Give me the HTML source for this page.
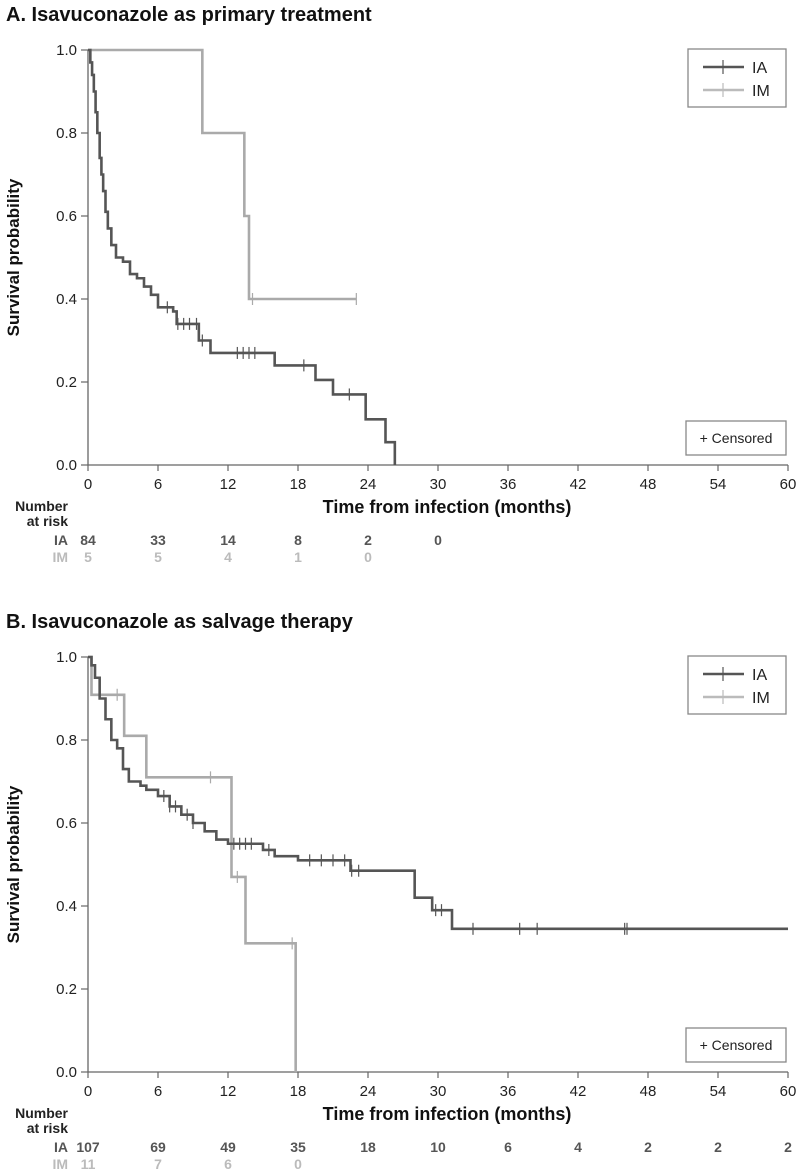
<!DOCTYPE html>
<html><head><meta charset="utf-8"><style>
body{margin:0;background:#fff;}
svg{display:block;font-family:"Liberation Sans",Arial,sans-serif;}
</style></head><body>
<svg id="chart" width="797" height="1172" viewBox="0 0 797 1172" xmlns="http://www.w3.org/2000/svg"></svg>
<script>
// Panel A data
const ticksX=[0,6,12,18,24,30,36,42,48,54,60];
const ticksY=[0,0.2,0.4,0.6,0.8,1.0];
const aIATimes=[0,0.2,0.35,0.5,0.65,0.8,1.0,1.15,1.3,1.5,1.7,2.0,2.4,3.0,3.6,4.2,4.8,5.4,6.0,7.3,7.6,9.5,10.5,16.0,19.5,21.0,23.8,25.5,26.3];
const aIASurv=[1.0,0.97,0.94,0.9,0.85,0.8,0.74,0.7,0.66,0.61,0.57,0.53,0.5,0.49,0.46,0.45,0.43,0.41,0.38,0.37,0.34,0.3,0.27,0.24,0.205,0.17,0.11,0.055,0.0];
const aIACens=[6.8,7.7,8.2,8.7,9.3,9.8,12.8,13.3,13.8,14.3,18.5,22.4];
const aIMTimes=[0,9.8,13.4,13.8];
const aIMSurv=[1.0,0.8,0.6,0.4];
const aIMEnd=23;
const aIMCens=[14.1,23];
const aRiskIA=["84","33","14","8","2","0"];
const aRiskIM=["5","5","4","1","0"];
// Panel B data
const bIATimes=[0,0.3,0.6,1.0,1.5,2.0,2.5,3.0,3.5,4.5,5.0,6.0,7.0,8.0,9.0,10.0,11.0,12.0,15.0,16.0,18.0,22.5,28.0,29.5,31.2];
const bIASurv=[1.0,0.98,0.95,0.9,0.85,0.8,0.78,0.73,0.7,0.69,0.68,0.665,0.64,0.62,0.6,0.58,0.56,0.55,0.535,0.52,0.51,0.485,0.42,0.39,0.345];
const bIAEnd=60;
const bIACens=[6.5,7.0,7.5,8.5,9.0,12.5,13.0,13.5,14.0,15.5,19,20,21,22,22.6,23.2,29.8,30.3,33,37,38.5,46,46.2];
const bIMTimes=[0,0.3,3.1,5.0,12.3,13.5,17.8];
const bIMSurv=[1.0,0.909,0.81,0.71,0.47,0.31,0.0];
const bIMCens=[2.5,10.5,12.8,17.5];
const bRiskIA=["107","69","49","35","18","10","6","4","2","2","2"];
const bRiskIM=["11","7","6","0"];

const NS="http://www.w3.org/2000/svg";
const svg=document.getElementById('chart');
function mk(tag,attrs,parent,text){const e=document.createElementNS(NS,tag);for(const k in attrs)e.setAttribute(k,attrs[k]);if(text!==undefined)e.textContent=text;(parent||svg).appendChild(e);return e;}
const X0=88,X1=788;
const xs=t=>X0+(t/60)*(X1-X0);
function survAt(times,surv,t){let s=surv[0];for(let i=0;i<times.length;i++){if(times[i]<=t)s=surv[i];}return s;}
function panel(off,title,iaT,iaS,iaEnd,iaC,imT,imS,imEnd,imC,rIA,rIM,key){
  const Y0=465+off,Y1=50+off;
  const ys=v=>Y0-(Y0-Y1)*v;
  const g=mk('g',{});
  
  
  const t=mk('text',{x:6,y:21+off,'font-size':20,'font-weight':'bold',fill:'#111'},g,title);
  
  
  const ax=mk('path',{d:`M${X0} ${Y1}V${Y0}H${X1}`,stroke:'#666','stroke-width':1.3,fill:'none'},g);
  
  
  ticksY.forEach(v=>{
    mk('line',{x1:X0-7,x2:X0,y1:ys(v),y2:ys(v),stroke:'#666','stroke-width':1.2},g);
    const l=mk('text',{x:X0-11,y:ys(v)+5,'font-size':15,'text-anchor':'end',fill:'#222'},g,v.toFixed(1));
    
    
  });
  ticksX.forEach(v=>{
    mk('line',{x1:xs(v),x2:xs(v),y1:Y0,y2:Y0+6,stroke:'#666','stroke-width':1.2},g);
    const l=mk('text',{x:xs(v),y:Y0+24,'font-size':15,'text-anchor':'middle',fill:'#222'},g,String(v));
    
    
  });
  const yt=mk('text',{x:0,y:0,'font-size':17,'font-weight':'bold','text-anchor':'middle',fill:'#111',transform:`translate(19 ${(Y0+Y1)/2}) rotate(-90)`},g,'Survival probability');
  
  
  const xt=mk('text',{x:447,y:Y0+48,'font-size':18,'font-weight':'bold','text-anchor':'middle',fill:'#111'},g,'Time from infection (months)');
  
  
  function curve(times,surv,end,cens,color,name){
    let d=`M${xs(times[0])} ${ys(surv[0])}`;
    for(let i=1;i<times.length;i++){d+=`H${xs(times[i])}V${ys(surv[i])}`;}
    if(end!==null)d+=`H${xs(end)}`;
    const p=mk('path',{d:d,stroke:color,'stroke-width':2.6,fill:'none'},g);
    
    
    cens.forEach(c=>{const s=survAt(times,surv,c);
      const m=mk('line',{x1:xs(c),x2:xs(c),y1:ys(s)-6,y2:ys(s)+6,stroke:color,'stroke-width':1.2},g);
      
      });
  }
  curve(imT,imS,imEnd,imC,'#aaa','im');
  curve(iaT,iaS,iaEnd,iaC,'#555','ia');
  const lg=mk('g',{},g);
  
  
  mk('rect',{x:688,y:49+off,width:98,height:58,fill:'#fff',stroke:'#888','stroke-width':1.3},lg);
  [['IA','#555',67],['IM','#bbb',90]].forEach(([n,c,yy])=>{
    mk('line',{x1:703,x2:744,y1:yy+off,y2:yy+off,stroke:c,'stroke-width':2.6},lg);
    mk('line',{x1:723,x2:723,y1:yy+off-7,y2:yy+off+7,stroke:c,'stroke-width':1.2},lg);
    const e=mk('text',{x:752,y:yy+off+6,'font-size':16,fill:'#222'},lg,n);
    
    
  });
  const cb=mk('g',{},g);
  
  
  mk('rect',{x:686,y:421+off,width:100,height:34,fill:'#fff',stroke:'#888','stroke-width':1.3},cb);
  mk('text',{x:736,y:443+off,'font-size':14,'text-anchor':'middle',fill:'#222'},cb,'+ Censored');
  const rt=mk('g',{},g);
  
  
  mk('text',{x:68,y:Y0+46,'font-size':14,'font-weight':'bold','text-anchor':'end',fill:'#222'},rt,'Number');
  mk('text',{x:68,y:Y0+61,'font-size':14,'font-weight':'bold','text-anchor':'end',fill:'#222'},rt,'at risk');
  mk('text',{x:68,y:Y0+80,'font-size':14,'font-weight':'bold','text-anchor':'end',fill:'#555'},rt,'IA');
  mk('text',{x:68,y:Y0+97,'font-size':14,'font-weight':'bold','text-anchor':'end',fill:'#bbb'},rt,'IM');
  rIA.forEach((v,i)=>mk('text',{x:xs(ticksX[i]),y:Y0+80,'font-size':14,'font-weight':'bold','text-anchor':'middle',fill:'#555'},rt,v));
  rIM.forEach((v,i)=>mk('text',{x:xs(ticksX[i]),y:Y0+97,'font-size':14,'font-weight':'bold','text-anchor':'middle',fill:'#bbb'},rt,v));
}
panel(0,'A. Isavuconazole as primary treatment',aIATimes,aIASurv,null,aIACens,aIMTimes,aIMSurv,aIMEnd,aIMCens,aRiskIA,aRiskIM,'a');
panel(607,'B. Isavuconazole as salvage therapy',bIATimes,bIASurv,bIAEnd,bIACens,bIMTimes,bIMSurv,null,bIMCens,bRiskIA,bRiskIM,'b');
</script>
</body></html>
